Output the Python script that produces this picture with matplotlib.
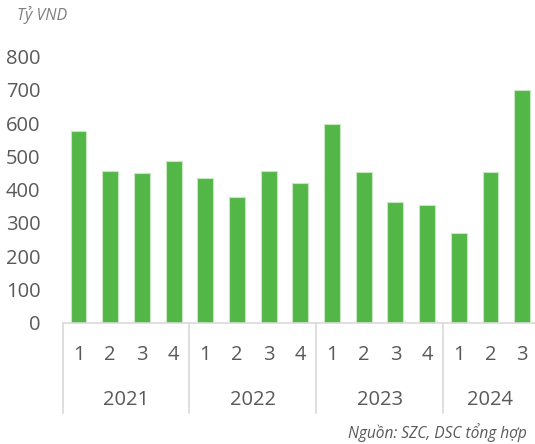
import matplotlib
matplotlib.use('Agg')
import matplotlib.pyplot as plt
from matplotlib.lines import Line2D

plt.rcParams['font.family'] = ['Open Sans', 'DejaVu Sans']

years = ['2021', '2022', '2023', '2024']
quarters = ['1', '2', '3', '4', '1', '2', '3', '4', '1', '2', '3', '4', '1', '2', '3']
values = [576, 457, 451, 487, 436, 379, 455, 420, 597, 452, 364, 355, 269, 454, 700]
year_sizes = [4, 4, 4, 3]

BAR = '#53b748'
TXT = '#595959'
LINE = '#d9d9d9'
FS = 14.5

W, H = 535, 444
fig = plt.figure(figsize=(W / 100, H / 100), dpi=100)
x0, x1 = 62.7, 538.0
y0, y800 = 322.5, 56.7
ax = fig.add_axes([x0 / W, 1 - y0 / H, (x1 - x0) / W, (y0 - y800) / H])

n = len(values)
ax.bar(range(n), values, width=0.5, color=BAR, edgecolor='#c8e6c2', linewidth=0.8)
ax.set_xlim(-0.5, n - 0.5)
ax.set_ylim(0, 800)
ax.set_yticks(range(0, 801, 100))
ax.tick_params(axis='y', length=0, pad=16, labelsize=FS, labelcolor=TXT)
ax.set_xticks([])
for s in ['top', 'right', 'left']:
    ax.spines[s].set_visible(False)
ax.spines['bottom'].set_color(LINE)
ax.spines['bottom'].set_linewidth(1.2)

# pixel row -> data units
def fy(py):
    return (y0 - py) / (y0 - y800) * 800

# quarter labels
for i, q in enumerate(quarters):
    ax.text(i, fy(355), q, ha='center', va='center', fontsize=FS, color=TXT, clip_on=False)

# year labels and separators
start = 0
bounds = [0]
for yr, sz in zip(years, year_sizes):
    mid = start + (sz - 1) / 2
    ax.text(mid, fy(400), yr, ha='center', va='center', fontsize=FS, color=TXT, clip_on=False)
    start += sz
    bounds.append(start)
for b in bounds:
    ax.add_line(Line2D([b - 0.5, b - 0.5], [0, fy(413)], color=LINE, lw=1.2, clip_on=False))

fig.text(17 / W, 1 - 15 / H, 'Tỷ VND', ha='left', va='center', fontsize=11.5,
         style='italic', color='#7f7f7f')
fig.text(527 / W, 1 - 433 / H, 'Nguồn: SZC, DSC tổng hợp', ha='right', va='center',
         fontsize=11.2, style='italic', color=TXT)

fig.savefig('out.png', dpi=100)
